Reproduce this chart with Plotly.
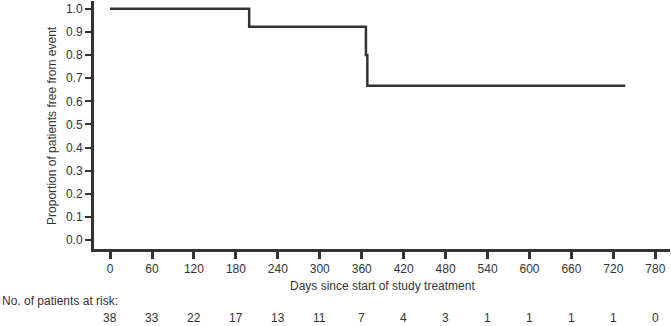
import plotly.graph_objects as go

days = [0, 199, 366, 368, 737]
survival = [1.0, 0.923, 0.8, 0.667, 0.667]
x_ticks = list(range(0, 781, 60))
y_ticks = [round(i * 0.1, 1) for i in range(11)]
at_risk = [38, 33, 22, 17, 13, 11, 7, 4, 3, 1, 1, 1, 1, 0]

C = "#333333"
FONT = "Liberation Sans, Arial, sans-serif"
FS = 12

fig = go.Figure()
fig.add_trace(go.Scatter(x=days, y=survival, mode="lines", line_shape="hv",
                         line=dict(color=C, width=2.5), showlegend=False,
                         hoverinfo="skip"))

for d, n in zip(x_ticks, at_risk):
    fig.add_annotation(x=d, y=-0.278, xref="x", yref="paper", text=str(n),
                       showarrow=False, font=dict(size=FS, color=C, family=FONT),
                       xanchor="center", yanchor="middle")

fig.add_annotation(x=-0.163, y=-0.21, xref="paper", yref="paper",
                   text="No. of patients at risk:", showarrow=False,
                   font=dict(size=FS, color=C, family=FONT),
                   xanchor="left", yanchor="middle")
fig.add_annotation(x=0.5, y=-0.149, xref="paper", yref="paper",
                   text="Days since start of study treatment", showarrow=False,
                   font=dict(size=FS, color=C, family=FONT),
                   xanchor="center", yanchor="middle")
fig.add_annotation(x=-0.073, y=0.5, xref="paper", yref="paper",
                   text="Proportion of patients free from event", showarrow=False,
                   textangle=-90, font=dict(size=FS, color=C, family=FONT),
                   xanchor="center", yanchor="middle")

fig.update_layout(
    width=671, height=326,
    margin=dict(l=94, r=1, t=1, b=77),
    plot_bgcolor="white", paper_bgcolor="white",
    font=dict(family=FONT, size=FS, color=C),
    xaxis=dict(range=[-23, 801], tickvals=x_ticks, ticks="outside", ticklen=7,
               tickwidth=2.5, tickcolor=C, showline=True, linecolor=C, linewidth=3,
               showgrid=False, zeroline=False, tickfont=dict(size=FS, color=C)),
    yaxis=dict(range=[-0.039, 1.034], tickvals=y_ticks, tickformat=".1f",
               ticks="outside", ticklen=6, tickwidth=2, tickcolor=C,
               showline=True, linecolor=C, linewidth=3, showgrid=False,
               zeroline=False, tickfont=dict(size=FS, color=C)),
)

fig.write_html("out.html", config={"displayModeBar": False},
               post_script="document.body.style.margin='0';document.body.style.padding='0';")
